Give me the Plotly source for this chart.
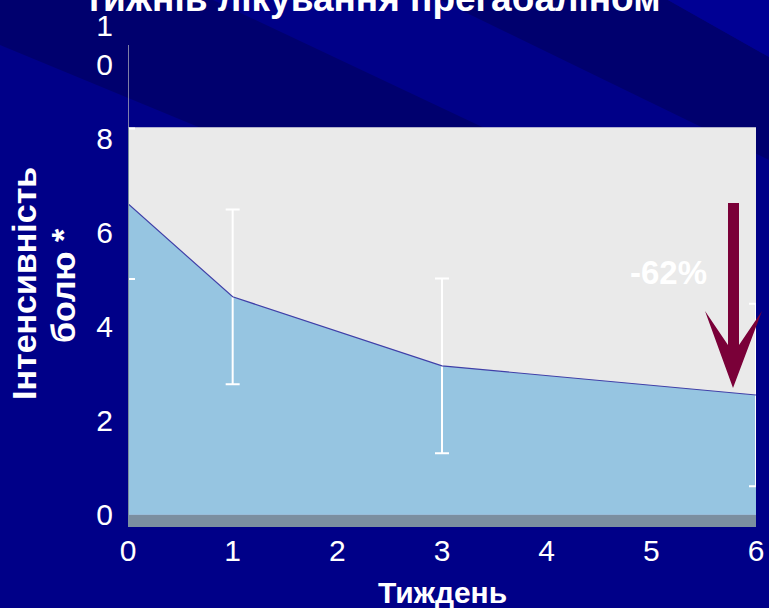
import plotly.graph_objects as go

# ---- data ----
weeks = [0, 1, 3, 6]
pain = [6.62, 4.64, 3.17, 2.55]
pain_sd = [1.6, 1.86, 1.86, 1.94]
x_ticks = [0, 1, 2, 3, 4, 5, 6]
y_ticks = [0, 2, 4, 6, 8, 10]
y_ticktext = ["0", "2", "4", "6", "8", "1<br>0"]
title_text = "тижнів лікування прегабаліном"
x_title = "Тиждень"
y_title_lines = ["Інтенсивність", "болю *"]
change_label = "-62%"

W, H = 769, 608
L, R, T, B = 128, 13, 45, 81
PW, PH = W - L - R, H - T - B


def px(x):
    return (x - L) / PW


def py(y):
    return (H - B - y) / PH


def poly(points):
    return "M " + " L ".join(f"{px(a):.5f},{py(b):.5f}" for a, b in points) + " Z"


NARROW = "Liberation Sans Narrow, Arial Narrow, Liberation Sans, Arial, sans-serif"
BOLD = "Liberation Sans, Arial, sans-serif"

shapes = []
# background diagonal bands (decoration)
shapes.append(dict(type="path", xref="paper", yref="paper", layer="below",
                   path=poly([(0, 0), (213, 0), (495, 133), (213, 133), (0, 45)]),
                   fillcolor="#00006E", line=dict(width=0)))
shapes.append(dict(type="path", xref="paper", yref="paper", layer="below",
                   path=poly([(440, 0), (668, 0), (769, 57), (769, 160)]),
                   fillcolor="#00006E", line=dict(width=0)))
shapes.append(dict(type="path", xref="paper", yref="paper", layer="below",
                   path=poly([(668, 0), (769, 0), (769, 57)]),
                   fillcolor="#000094", line=dict(width=0)))
# back wall
shapes.append(dict(type="rect", xref="x", yref="y", layer="below",
                   x0=0, x1=6.01, y0=0, y1=8.25,
                   fillcolor="#EAEAEA", line=dict(width=0)))
# floor
shapes.append(dict(type="rect", xref="x", yref="y", layer="below",
                   x0=0, x1=6.01, y0=-0.26, y1=0,
                   fillcolor="#7B8FA0", line=dict(width=0)))
# axis line above the wall
shapes.append(dict(type="line", xref="x", yref="y", x0=0, x1=0, y0=8.25, y1=10,
                   line=dict(color="#A8A8B8", width=1.5)))
# left wall edge
shapes.append(dict(type="line", xref="x", yref="y", x0=0, x1=0, y0=-0.26, y1=8.25,
                   line=dict(color="#7B8FA0", width=2)))
# arrow
shapes.append(dict(type="path", xref="paper", yref="paper",
                   path=poly([(728, 203), (739, 203), (739, 345), (762, 311),
                              (733, 388), (705, 311), (728, 345)]),
                   fillcolor="#7A0038", line=dict(width=0)))

fig = go.Figure()
fig.add_trace(go.Scatter(
    x=weeks, y=pain, mode="lines", fill="tozeroy",
    fillcolor="#96C5E1", line=dict(color="#4040A8", width=1.2),
    error_y=dict(type="data", array=pain_sd, color="white", thickness=2, width=7),
    cliponaxis=False, showlegend=False, hoverinfo="skip"))

annotations = [
    dict(text=title_text, xref="paper", yref="paper", x=px(373), y=py(21),
         xanchor="center", yanchor="bottom", showarrow=False,
         font=dict(family=BOLD, size=37, color="white", weight="bold")),
    dict(text=x_title, xref="paper", yref="paper", x=px(442), y=py(592),
         xanchor="center", yanchor="middle", showarrow=False,
         font=dict(family=BOLD, size=30, color="white", weight="bold")),
    dict(text=y_title_lines[0], xref="paper", yref="paper", x=px(24), y=py(284),
         xanchor="center", yanchor="middle", showarrow=False, textangle=-90,
         font=dict(family=BOLD, size=34, color="white", weight="bold")),
    dict(text=y_title_lines[1], xref="paper", yref="paper", x=px(63), y=py(286),
         xanchor="center", yanchor="middle", showarrow=False, textangle=-90,
         font=dict(family=BOLD, size=34, color="white", weight="bold")),
    dict(text=change_label, xref="paper", yref="paper", x=px(668), y=py(272),
         xanchor="center", yanchor="middle", showarrow=False,
         font=dict(family=BOLD, size=33, color="white", weight="bold")),
]

fig.update_layout(
    template="none",
    width=W, height=H, autosize=False,
    margin=dict(l=L, r=R, t=T, b=B, pad=0, autoexpand=False),
    paper_bgcolor="#000088", plot_bgcolor="rgba(0,0,0,0)",
    shapes=shapes, annotations=annotations,
    xaxis=dict(range=[0, 6], tickvals=x_ticks, showgrid=False, zeroline=False,
               showline=False, ticks="", ticklabelstandoff=3, automargin=False,
               tickfont=dict(family=NARROW, size=30, color="white"), fixedrange=True),
    yaxis=dict(range=[-0.26, 10], tickvals=y_ticks, ticktext=y_ticktext,
               showgrid=False, zeroline=False, showline=False, ticks="",
               ticklabelstandoff=14, automargin=False,
               tickfont=dict(family=NARROW, size=30, color="white"), fixedrange=True),
)

fig.write_html("out.html", config={"displayModeBar": False, "responsive": False},
               post_script="document.body.style.margin='0';document.body.style.overflow='hidden';")
